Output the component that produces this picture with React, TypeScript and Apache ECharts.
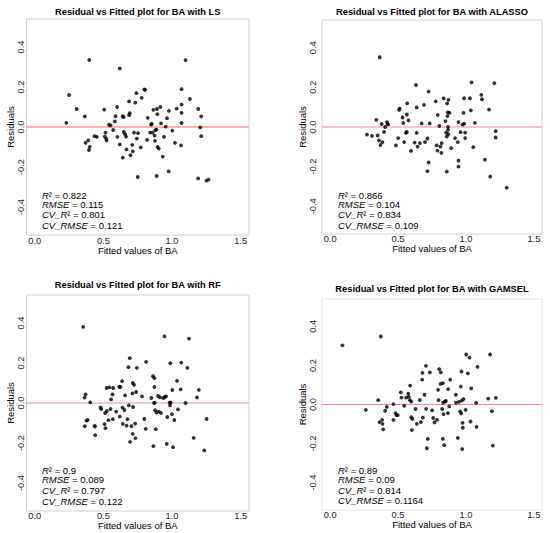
import React, { useEffect, useRef } from "react";
import * as echarts from "echarts";

const methods = ["LS", "ALASSO", "RF", "GAMSEL"];
const xTickValues = [0, 0.5, 1.0, 1.5];
const yTickValues = [-0.4, -0.2, 0.0, 0.2, 0.4];
const xLimits = [-0.06, 1.56];
const yLimits = [-0.54, 0.54];
const zeroResidual = 0;
const r2Values = ["0.822", "0.866", "0.9", "0.89"];
const rmseValues = ["0.115", "0.104", "0.089", "0.09"];
const cvR2Values = ["0.801", "0.834", "0.797", "0.814"];
const cvRmseValues = ["0.121", "0.109", "0.122", "0.1164"];

const lsFitted = [0.23, 0.25, 0.305, 0.365, 0.37, 0.39, 0.395, 0.4, 0.397, 0.435, 0.452, 0.506, 0.51, 0.515, 0.52, 0.523, 0.54, 0.552, 0.571, 0.583, 0.588, 0.6, 0.602, 0.619, 0.619, 0.641, 0.646, 0.641, 0.648, 0.658, 0.665, 0.668, 0.687, 0.687, 0.692, 0.697, 0.71, 0.714, 0.723, 0.733, 0.74, 0.743, 0.75, 0.752, 0.772, 0.779, 0.798, 0.803, 0.818, 0.823, 0.84, 0.847, 0.852, 0.859, 0.864, 0.873, 0.876, 0.878, 0.886, 0.888, 0.89, 0.893, 0.895, 0.903, 0.915, 0.919, 0.932, 0.941, 0.953, 0.963, 0.977, 0.975, 1.002, 1.021, 1.033, 1.065, 1.069, 1.069, 1.069, 1.069, 1.098, 1.13, 1.19, 1.19, 1.212, 1.205, 1.212, 1.251, 1.265];
const lsResid = [0.021, 0.16, 0.09, 0.053, -0.079, -0.067, -0.115, -0.099, 0.335, -0.046, -0.049, 0.087, -0.048, -0.028, -0.058, -0.067, 0.012, 0.008, -0.015, 0.028, 0.054, 0.1, -0.049, 0.293, -0.087, 0.054, 0.049, -0.153, -0.025, -0.036, -0.048, -0.112, 0.128, 0.059, 0.069, -0.141, -0.089, -0.122, -0.028, 0.122, 0.169, -0.058, -0.25, -0.031, -0.102, 0.146, 0.188, 0.186, -0.064, 0.046, -0.028, 0.012, 0.016, -0.028, 0.086, -0.043, -0.069, -0.016, -0.013, -0.245, 0.09, 0.064, -0.1, -0.108, 0.1, 0.018, -0.148, -0.049, 0.002, 0.044, 0.081, -0.222, -0.018, -0.079, 0.092, -0.092, 0.112, 0.071, 0.189, 0.02, 0.334, 0.14, 0.09, -0.257, 0.053, -0.002, -0.046, -0.268, -0.263];

const alassoFitted = [0.271, 0.308, 0.34, 0.35, 0.36, 0.365, 0.37, 0.38, 0.385, 0.397, 0.405, 0.419, 0.422, 0.427, 0.484, 0.501, 0.508, 0.511, 0.533, 0.538, 0.545, 0.558, 0.565, 0.567, 0.565, 0.577, 0.595, 0.622, 0.632, 0.637, 0.637, 0.644, 0.661, 0.674, 0.691, 0.698, 0.716, 0.716, 0.725, 0.725, 0.733, 0.777, 0.785, 0.792, 0.79, 0.804, 0.812, 0.819, 0.822, 0.836, 0.849, 0.854, 0.859, 0.859, 0.861, 0.864, 0.866, 0.868, 0.868, 0.871, 0.871, 0.878, 0.891, 0.92, 0.94, 0.945, 0.945, 0.945, 0.96, 0.975, 0.982, 0.987, 0.987, 0.994, 0.994, 1.029, 1.036, 1.041, 1.054, 1.066, 1.113, 1.118, 1.14, 1.17, 1.179, 1.209, 1.219, 1.219, 1.3];
const alassoResid = [-0.038, -0.045, 0.036, -0.043, -0.068, 0.352, -0.091, 0.015, -0.076, -0.025, 0.0, 0.025, 0.015, 0.013, -0.093, -0.056, 0.086, 0.093, 0.048, 0.02, -0.076, -0.03, 0.063, 0.119, -0.025, 0.033, -0.121, -0.079, 0.212, 0.099, -0.03, -0.099, -0.081, 0.018, 0.112, -0.076, -0.058, -0.223, 0.179, -0.179, 0.018, 0.129, -0.093, 0.061, -0.119, 0.005, -0.099, -0.131, -0.081, 0.144, 0.03, -0.028, -0.048, -0.225, 0.119, 0.055, 0.074, 0.0, -0.015, -0.036, 0.137, 0.071, -0.107, -0.056, -0.076, 0.025, -0.17, -0.2, -0.026, 0.012, 0.071, 0.145, 0.017, -0.028, -0.056, 0.145, 0.084, 0.225, -0.102, 0.021, 0.162, 0.14, -0.165, 0.088, -0.25, 0.221, -0.021, -0.053, -0.306];

const rfFitted = [0.353, 0.363, 0.37, 0.365, 0.377, 0.385, 0.404, 0.436, 0.44, 0.438, 0.479, 0.484, 0.508, 0.515, 0.513, 0.523, 0.525, 0.537, 0.544, 0.552, 0.556, 0.566, 0.569, 0.571, 0.593, 0.615, 0.619, 0.624, 0.636, 0.639, 0.641, 0.653, 0.658, 0.668, 0.675, 0.682, 0.685, 0.692, 0.694, 0.704, 0.714, 0.711, 0.714, 0.716, 0.723, 0.731, 0.733, 0.738, 0.743, 0.781, 0.798, 0.811, 0.808, 0.849, 0.861, 0.864, 0.869, 0.871, 0.871, 0.873, 0.876, 0.881, 0.886, 0.898, 0.903, 0.912, 0.919, 0.936, 0.944, 0.946, 0.956, 0.961, 0.965, 0.982, 0.985, 0.987, 0.99, 0.999, 1.002, 1.007, 1.016, 1.036, 1.043, 1.062, 1.067, 1.098, 1.111, 1.123, 1.157, 1.181, 1.195, 1.234, 1.251];
const rfResid = [0.381, 0.027, 0.043, -0.116, -0.088, -0.085, 0.003, -0.114, -0.161, -0.118, -0.022, -0.03, -0.106, -0.126, -0.05, 0.075, -0.04, -0.086, 0.078, -0.03, 0.018, 0.043, -0.081, 0.075, -0.043, 0.081, -0.068, 0.08, 0.109, -0.023, -0.104, -0.035, 0.038, -0.113, -0.081, 0.179, -0.012, 0.224, -0.194, -0.116, -0.154, 0.048, 0.1, -0.02, 0.091, -0.103, -0.176, 0.055, 0.176, 0.033, -0.08, 0.206, -0.129, 0.025, 0.134, -0.216, 0.0, 0.124, 0.08, 0.002, -0.036, -0.131, -0.048, 0.035, -0.043, 0.028, -0.05, 0.025, 0.333, 0.03, 0.033, -0.204, -0.07, 0.002, -0.012, 0.199, 0.002, -0.056, 0.065, -0.221, -0.085, 0.111, -0.032, 0.068, 0.202, 0.0, 0.176, 0.322, -0.174, 0.028, 0.066, -0.237, -0.08];

const gamselFitted = [0.091, 0.263, 0.354, 0.363, 0.373, 0.383, 0.385, 0.39, 0.405, 0.417, 0.466, 0.466, 0.481, 0.489, 0.498, 0.52, 0.525, 0.545, 0.56, 0.575, 0.579, 0.587, 0.589, 0.597, 0.597, 0.602, 0.606, 0.629, 0.638, 0.66, 0.668, 0.678, 0.68, 0.683, 0.695, 0.705, 0.707, 0.712, 0.719, 0.734, 0.751, 0.759, 0.768, 0.786, 0.795, 0.798, 0.803, 0.813, 0.815, 0.825, 0.83, 0.83, 0.832, 0.835, 0.84, 0.845, 0.852, 0.867, 0.869, 0.877, 0.884, 0.926, 0.926, 0.94, 0.948, 0.957, 0.962, 0.965, 0.967, 0.97, 0.972, 0.975, 0.977, 0.982, 0.997, 1.002, 1.014, 1.026, 1.034, 1.039, 1.075, 1.078, 1.085, 1.164, 1.178, 1.191, 1.198, 1.22];
const gamselResid = [0.303, -0.028, 0.022, -0.09, 0.348, -0.079, -0.099, -0.127, -0.032, -0.012, 0.002, -0.079, -0.044, -0.054, -0.054, 0.062, 0.035, -0.007, 0.035, 0.055, 0.039, 0.022, 0.097, 0.015, -0.065, -0.131, -0.074, -0.023, -0.099, 0.023, -0.09, 0.127, 0.162, -0.067, 0.05, 0.198, -0.022, -0.224, -0.176, 0.164, -0.03, -0.069, -0.092, -0.079, 0.075, 0.022, 0.181, 0.106, 0.164, -0.023, 0.109, -0.176, 0.01, -0.049, -0.208, 0.015, 0.018, -0.044, 0.079, -0.01, 0.127, 0.05, 0.01, -0.171, 0.013, -0.035, 0.092, -0.045, 0.169, 0.02, -0.228, -0.094, -0.119, 0.028, -0.028, 0.256, 0.159, 0.24, -0.087, 0.082, 0.008, -0.114, 0.193, 0.03, 0.256, -0.034, -0.211, 0.034];

const fittedSets = [lsFitted, alassoFitted, rfFitted, gamselFitted];
const residSets = [lsResid, alassoResid, rfResid, gamselResid];

const FONT = "'Liberation Sans', Arial, Helvetica, sans-serif";

const panels = [
  { left: 26.5, top: 19, width: 222.5, height: 216, titleY: 12, annX: 42, annY: [195, 204.5, 214.5, 225], xMargin: 1, xNameGap: 7, yMargin: 1.2, yNameGap: 5.5, border: "#d0d0d0", zero: "#ffb0b0", zeroW: 2 },
  { left: 322, top: 20, width: 220, height: 214, titleY: 12, annX: 338, annY: [195, 204.5, 214.5, 225], xMargin: 0, xNameGap: 8, yMargin: 4.5, yNameGap: 5.8, border: "#d0d0d0", zero: "#f58a8a", zeroW: 1 },
  { left: 26.5, top: 295, width: 222.5, height: 216, titleY: 285, annX: 42, annY: [470, 479.5, 490.5, 501.5], xMargin: 0, xNameGap: 7, yMargin: 1.2, yNameGap: 5.5, border: "#d0d0d0", zero: "#f58a8a", zeroW: 1 },
  { left: 322, top: 299, width: 220, height: 211, titleY: 289, annX: 338, annY: [470, 479.5, 490, 500.5], xMargin: 0, xNameGap: 7, yMargin: 4.5, yNameGap: 5.8, border: "#e6e6e6", zero: "#f58a8a", zeroW: 1 },
];

function annotationLines(i: number) {
  return [
    `{it|R}{n|² = ${r2Values[i]}}`,
    `{it|RMSE}{n| = ${rmseValues[i]}}`,
    `{it|CV_R}{n|² = ${cvR2Values[i]}}`,
    `{it|CV_RMSE}{n| = ${cvRmseValues[i]}}`,
  ];
}

export default function App() {
  const ref = useRef<HTMLDivElement>(null);
  useEffect(() => {
    document.body.style.margin = "0";
    if (!ref.current) return;
    const chart = echarts.init(ref.current, null, { renderer: "svg" });
    const rich = {
      it: { fontStyle: "italic" as const, fontSize: 9.5, fontFamily: FONT, color: "#000" },
      n: { fontSize: 9.5, fontFamily: FONT, color: "#000" },
    };
    const graphic: any[] = [];
    panels.forEach((p, i) => {
      graphic.push({
        type: "text",
        x: p.left + p.width / 2,
        y: p.titleY,
        silent: true,
        style: {
          text: `Residual vs Fitted plot for BA with ${methods[i]}`,
          fontSize: 9.3,
          fontWeight: "bold",
          fontFamily: FONT,
          fill: "#000",
          align: "center",
          verticalAlign: "middle",
        },
      });
      annotationLines(i).forEach((t, k) => {
        graphic.push({
          type: "text",
          x: p.annX,
          y: p.annY[k],
          silent: true,
          style: { text: t, rich, align: "left", verticalAlign: "middle", fill: "#000" },
        });
      });
    });

    const scatterSeries = panels.map((p, i) => ({
      type: "scatter",
      xAxisIndex: i,
      yAxisIndex: i,
      symbol: "circle",
      symbolSize: 3.8,
      itemStyle: { color: "#000" },
      silent: true,
      z: 3,
      data: fittedSets[i].map((x, k) => [x, residSets[i][k]]),
    }));
    const zeroSeries = panels.map((p, i) => ({
      type: "line",
      xAxisIndex: i,
      yAxisIndex: i,
      symbol: "none",
      silent: true,
      z: 2,
      lineStyle: { color: p.zero, width: p.zeroW, type: "solid" },
      data: [
        [xLimits[0], zeroResidual],
        [xLimits[1], zeroResidual],
      ],
    }));

    const option: any = {
      animation: false,
      backgroundColor: "#fff",
      grid: panels.map((p) => ({
        left: p.left,
        top: p.top,
        width: p.width,
        height: p.height,
        show: true,
        borderColor: p.border,
        borderWidth: 1,
        backgroundColor: "transparent",
        containLabel: false,
      })),
      xAxis: panels.map((p, i) => ({
        gridIndex: i,
        type: "value",
        min: xLimits[0],
        max: xLimits[1],
        axisLine: { show: false, onZero: false },
        axisTick: { show: false },
        splitLine: { show: false },
        axisLabel: {
          customValues: xTickValues,
          formatter: (v: number) => v.toFixed(1),
          fontSize: 9.3,
          fontFamily: FONT,
          color: "#222",
          margin: p.xMargin,
        },
        name: "Fitted values of BA",
        nameLocation: "middle",
        nameGap: p.xNameGap,
        nameTextStyle: { fontSize: 9.5, fontFamily: FONT, color: "#000" },
      })),
      yAxis: panels.map((p, i) => ({
        gridIndex: i,
        type: "value",
        min: yLimits[0],
        max: yLimits[1],
        axisLine: { show: false, onZero: false },
        axisTick: { show: false },
        splitLine: { show: false },
        axisLabel: {
          customValues: yTickValues,
          formatter: (v: number) => v.toFixed(1),
          rotate: 90,
          fontSize: 9.3,
          fontFamily: FONT,
          color: "#222",
          margin: p.yMargin,
        },
        name: "Residuals",
        nameLocation: "middle",
        nameGap: p.yNameGap,
        nameTextStyle: { fontSize: 9.5, fontFamily: FONT, color: "#000" },
      })),
      series: [...zeroSeries, ...scatterSeries],
      graphic,
    };
    chart.setOption(option);
    return () => chart.dispose();
  }, []);
  return <div ref={ref} style={{ width: 550, height: 533 }} />;
}
